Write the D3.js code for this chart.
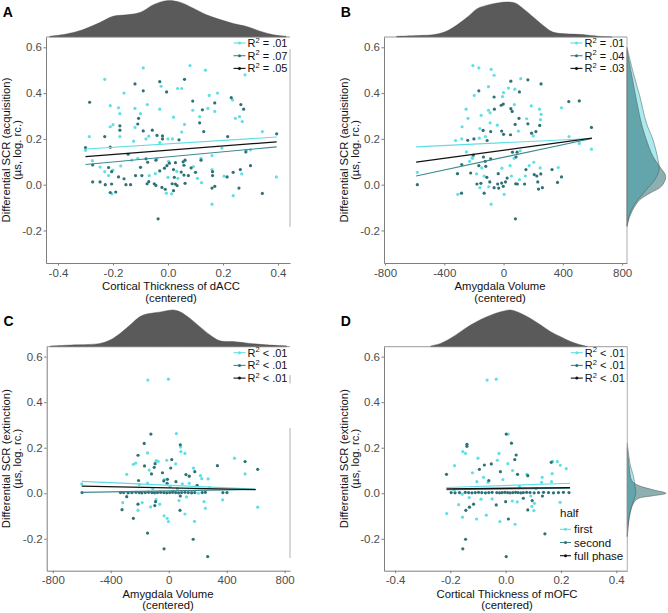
<!DOCTYPE html>
<html><head><meta charset="utf-8">
<script src="https://cdn.jsdelivr.net/npm/d3@7"></script>
<style>body{margin:0;background:#fff}svg{display:block;font-family:"Liberation Sans",Arial,sans-serif}</style>
</head><body><svg id="chart" width="668" height="613"></svg>
<script>
// ---------- DATA ----------
const seriesNames = ["first", "second", "full phase"];
const yTicks = [-0.2, 0.0, 0.2, 0.4, 0.6];
const thickTicks = [-0.4, -0.2, 0.0, 0.2, 0.4];
const volTicks = [-800, -400, 0, 400, 800];

// Panel A: cortical thickness dACC vs SCR acquisition
const aFirst = [[-0.09,0.51],[0.08,0.52],[0.136,0.50],[-0.23,0.46],[0.28,0.48],[-0.025,0.43],[0.035,0.42],[0.05,0.42],[-0.16,0.40],[0.15,0.39],[0.18,0.40],[0.235,0.37],[-0.21,0.345],[-0.18,0.336],[-0.075,0.35],[-0.03,0.33],[0.09,0.325],[0.145,0.333],[0.17,0.32],[-0.12,0.333],[-0.175,0.31],[-0.1,0.31],[0.02,0.295],[0.245,0.29],[0.26,0.297],[0.27,0.276],[0.115,0.297],[0.06,0.263],[-0.21,0.253],[-0.2,0.262],[-0.12,0.25],[-0.07,0.212],[-0.08,0.2],[-0.03,0.184],[0,0.2],[0.016,0.2],[0.05,0.23],[-0.286,0.21],[-0.175,0.21],[-0.125,0.19],[0.343,0.232],[0.394,0.034],[-0.30,0.15],[-0.275,0.105],[-0.247,0.077],[-0.23,0.057],[-0.204,-0.04],[-0.006,-0.037],[0.013,-0.04],[0.122,0.009],[0.16,-0.085],[0.237,-0.048],[0.268,0.047],[0.16,0.066],[0.12,0.115],[0.16,0.127],[0.196,0.16],[0.284,0.15],[0.3,0.152],[0.002,0.102],[-0.04,0.114],[-0.11,0.115],[-0.132,0.107],[-0.2,0.064],[-0.216,0.04],[-0.172,0.082],[-0.068,0.04],[-0.046,0.048],[0.032,0.058],[0.092,0.079],[0.107,0.028],[0,0.032],[0.036,0.028],[0.204,0.037]];
const aSecond = [[-0.12,0.44],[-0.03,0.45],[0.06,0.46],[-0.09,0.41],[-0.005,0.405],[-0.285,0.36],[0.09,0.365],[0.17,0.357],[0.23,0.38],[0.265,0.35],[0.275,0.33],[0.125,0.327],[-0.107,0.29],[-0.11,0.265],[0.115,0.27],[-0.175,0.257],[-0.175,0.238],[-0.09,0.235],[-0.057,0.238],[-0.04,0.215],[-0.02,0.213],[-0.02,0.2],[0.04,0.196],[0.13,0.232],[-0.23,0.21],[-0.21,0.164],[0.217,0.21],[0.395,0.222],[-0.30,0.162],[-0.274,0.086],[-0.216,0.075],[-0.205,0.057],[-0.274,0.012],[-0.247,0.012],[-0.228,0.0],[-0.205,0.003],[-0.21,-0.034],[-0.19,-0.032],[-0.18,0.034],[-0.16,0.026],[-0.153,0.0],[-0.136,0.0],[-0.118,0.04],[-0.095,0.04],[-0.076,0.004],[-0.07,0.013],[-0.05,0.004],[-0.044,-0.003],[-0.01,-0.02],[-0.022,-0.012],[0.015,0.004],[0.027,0.003],[0.033,-0.004],[0.02,-0.026],[0.062,0.006],[0.074,0.04],[0.16,-0.015],[0.17,-0.007],[0.258,-0.015],[0.343,-0.038],[-0.036,-0.149],[0.3,0.083],[0.263,0.066],[0.215,0.034],[0.237,0.054],[0.162,0.057],[0.162,0.04],[0.12,0.107],[0.283,0.143],[0.055,0.1],[0.062,0.107],[0.058,0.085],[0.084,0.073],[0.027,0.096],[-0.044,0.107],[-0.08,0.113],[-0.074,0.098],[-0.145,0.133],[-0.1,0.076],[-0.004,0.083],[0.005,0.094],[-0.013,0.072],[-0.03,0.06],[0.02,0.066],[0.048,0.055],[0.058,0.042],[0.1,0.054],[0.023,0.032]];
const aFitFirst = [[-0.30,0.156],[0.395,0.208]];
const aFitSecond = [[-0.30,0.088],[0.395,0.165]];
const aFitFull = [[-0.30,0.123],[0.395,0.187]];
const aR2 = ["= .01", "= .07", "= .05"];
const aTopX = [-0.43,-0.37,-0.31,-0.25,-0.2,-0.15,-0.1,-0.053,-0.005,0.043,0.09,0.14,0.19,0.238,0.286,0.335,0.383,0.43];
const aTopD = [0.02,0.08,0.20,0.39,0.57,0.61,0.68,0.89,1.0,0.96,0.80,0.61,0.48,0.37,0.29,0.16,0.06,0.02];

// Panel B: amygdala volume vs SCR acquisition
const bFirst = [[-207,0.52],[-167,0.51],[-84,0.504],[-64,0.478],[116,0.463],[76,0.417],[0,0.402],[33,0.422],[-102,0.428],[-198,0.39],[-7,0.385],[73,0.35],[-102,0.325],[-91,0.314],[-253,0.33],[-240,0.29],[-280,0.253],[-151,0.303],[-91,0.27],[-42,0.26],[-160,0.245],[100,0.234],[156,0.288],[187,0.344],[242,0.33],[253,0.307],[249,0.284],[200,0.213],[391,0.336],[442,0.21],[593,0.155],[511,0.18],[-324,0.193],[-282,0.2],[-164,0.203],[-122,0.21],[-582,0.054],[-309,-0.042],[-251,0.143],[-213,0.117],[-182,0.047],[-160,-0.013],[-147,0.073],[-131,0.038],[-100,-0.009],[-84,-0.085],[4,-0.042],[-11,0.072],[53,0.038],[44,0.083],[107,0.022],[71,0.115],[113,0.148],[147,0.038],[173,0.083],[204,0.098],[247,0.073],[369,0.075],[-209,0.115],[-229,0.102]];
const bSecond = [[49,0.452],[164,0.458],[253,0.44],[107,0.405],[-167,0.41],[-64,0.383],[-2,0.352],[-16,0.347],[49,0.332],[58,0.32],[-62,0.33],[-138,0.237],[-87,0.232],[-13,0.234],[0,0.22],[78,0.263],[104,0.29],[47,0.218],[164,0.266],[244,0.259],[218,0.232],[189,0.225],[440,0.363],[511,0.366],[593,0.25],[-242,0.194],[-200,0.2],[-111,0.193],[-582,0.0],[-311,0.048],[-284,-0.037],[-282,0.088],[-222,0.051],[-204,0.129],[-180,0.003],[-167,0.083],[-153,0.006],[-136,0.121],[-124,0.102],[-120,0.08],[-113,0.032],[-93,0.012],[-131,-0.037],[-87,0.113],[-64,-0.013],[-40,0.003],[-33,-0.015],[-13,0.007],[-2,-0.007],[13,0.012],[-36,0.048],[24,0.029],[82,0.004],[93,0.003],[80,-0.149],[84,0.121],[91,0.142],[60,0.142],[151,0.066],[142,0.003],[207,0.044],[224,0.038],[231,0.012],[251,0.047],[236,-0.019],[262,-0.013],[327,0.066],[364,0.01],[391,0.034]];
const bFitFirst = [[-590,0.165],[596,0.202]];
const bFitSecond = [[-590,0.038],[596,0.202]];
const bFitFull = [[-590,0.099],[596,0.203]];
const bR2 = ["= .01", "= .04", "= .03"];
const bTopX = [-722,-578,-467,-400,-333,-244,-178,-111,-44,22,78,133,200,267,333,422,533,644,733];
const bTopD = [0.02,0.04,0.07,0.14,0.29,0.57,0.81,0.91,0.97,1.0,0.97,0.81,0.57,0.33,0.14,0.09,0.07,0.02,0];
const bRightFirstY = [0.60,0.49,0.387,0.27,0.197,0.11,0.066,0.022,-0.022,-0.066,-0.095,-0.139,-0.18];
const bRightFirstD = [0,0.16,0.33,0.50,0.67,0.80,0.83,0.72,0.50,0.28,0.16,0.05,0];
const bRightSecondY = [0.59,0.49,0.373,0.27,0.197,0.124,0.08,0.036,-0.007,-0.037,-0.066,-0.095,-0.139,-0.183];
const bRightSecondD = [0,0.11,0.24,0.37,0.50,0.67,0.84,1.0,0.89,0.59,0.33,0.20,0.07,0];

// Panel C: amygdala volume vs SCR extinction
const cFirst = [[-144,0.497],[-2,0.501],[53,0.262],[82,0.203],[84,0.183],[112,0.175],[-146,0.177],[-87,0.143],[-73,0.14],[-14,0.145],[-244,0.127],[-228,0.132],[-135,0.102],[-290,0.083],[48,0.129],[171,0.11],[219,0.077],[228,0.064],[272,0.063],[454,0.154],[527,0.085],[614,-0.061],[-600,0.041],[-203,0.038],[-146,0.045],[94,0.041],[142,0.044],[281,0.025],[-317,-0.041],[-212,-0.075],[-183,-0.041],[-125,-0.06],[-87,-0.028],[-62,-0.048],[-32,-0.099],[-11,-0.11],[-2,-0.124],[112,-0.091],[71,-0.032],[178,-0.123],[244,-0.037],[253,-0.066],[372,-0.029],[205,0.0],[123,-0.016],[-270,0.003],[-60,0.005],[30,0.01],[160,0.006],[-110,0.02],[-30,0.06],[10,0.03],[60,0.02]];
const cSecond = [[-123,0.26],[-169,0.219],[80,0.213],[-212,0.167],[-94,0.13],[-100,0.114],[21,0.148],[-167,0.12],[-119,0.085],[-43,0.09],[14,0.111],[119,0.082],[142,0.075],[180,0.095],[336,0.121],[527,0.139],[614,0.105],[-598,0.003],[-208,0.056],[-34,0.054],[-9,0.061],[-11,0.044],[50,0.051],[196,0.035],[-290,-0.015],[-322,-0.072],[-212,-0.048],[-96,-0.054],[-91,-0.037],[78,-0.075],[80,-0.012],[-146,-0.175],[-32,-0.244],[169,-0.202],[269,-0.278],[-244,-0.11],[-333,0.003],[-311,0.003],[-281,0.002],[-253,0.003],[-226,0.004],[-203,0.003],[-185,0.002],[-162,0.003],[-139,0.004],[-116,0.003],[-98,0.002],[-78,0.003],[-55,0.004],[-34,0.003],[-14,0.002],[7,0.003],[27,0.004],[48,0.003],[68,0.002],[89,0.003],[112,0.004],[135,0.003],[158,0.002],[180,0.003],[231,0.003],[253,0.004],[374,0.003],[402,0.003]];
const cFitFirst = [[-600,0.052],[600,0.018]];
const cFitSecond = [[-600,0.004],[600,0.017]];
const cFitFull = [[-600,0.031],[600,0.016]];
const cR2 = ["< .01", "< .01", "< .01"];
const cTopX = [-819,-704,-635,-474,-405,-336,-267,-198,-152,-83,-14,32,78,147,216,285,354,446,561,677,815];
const cTopD = [0.02,0.04,0.05,0.09,0.18,0.36,0.59,0.82,0.89,0.93,0.98,1.0,0.95,0.77,0.54,0.32,0.16,0.14,0.09,0.05,0.02];

// Panel D: cortical thickness mOFC vs SCR extinction
const dFirst = [[-0.067,0.497],[-0.034,0.501],[0.009,0.26],[-0.155,0.183],[-0.145,0.175],[-0.185,0.121],[-0.1,0.154],[-0.024,0.175],[-0.03,0.145],[0.008,0.13],[0.025,0.1],[0.077,0.083],[0.132,0.07],[0.168,0.086],[0.17,0.14],[0.187,0.139],[0.198,0.123],[0.219,0.108],[-0.213,-0.089],[-0.156,-0.105],[-0.105,-0.113],[-0.07,-0.096],[-0.021,-0.124],[0.034,-0.136],[0.042,-0.038],[0.095,-0.058],[0.102,-0.076],[0.197,-0.04],[-0.104,0.051],[-0.064,0.048],[0.13,0.048],[0.166,0.051],[-0.186,0.015],[-0.157,-0.004],[-0.132,-0.019],[-0.089,-0.026],[-0.049,-0.025],[0.024,-0.034],[0.091,-0.012],[0.104,-0.044],[-0.12,0.09],[-0.08,0.07],[-0.01,0.06],[0.05,0.03],[0.11,0.02],[-0.17,-0.05]];
const dSecond = [[0.002,0.26],[0.021,0.22],[-0.14,0.215],[-0.14,0.206],[0.038,0.168],[0.033,0.148],[-0.214,0.083],[-0.052,0.129],[-0.077,0.124],[-0.095,0.105],[-0.019,0.095],[0.043,0.083],[0.08,0.077],[0.165,0.136],[-0.144,-0.075],[-0.131,-0.061],[0.01,-0.113],[-0.034,-0.051],[0.0,-0.037],[0.08,-0.073],[0.096,-0.032],[0.142,-0.178],[-0.145,-0.202],[-0.155,-0.244],[0.002,-0.278],[-0.061,0.056],[-0.116,-0.048],[0.064,-0.022],[0.133,-0.012],[-0.197,0.003],[-0.183,0.002],[-0.167,0.003],[-0.146,0.004],[-0.134,0.003],[-0.122,0.002],[-0.11,0.003],[-0.098,0.004],[-0.086,0.003],[-0.073,0.002],[-0.061,0.003],[-0.049,0.004],[-0.032,0.003],[-0.022,0.002],[-0.013,0.003],[-0.003,0.004],[0.007,0.003],[0.016,0.002],[0.026,0.003],[0.036,0.004],[0.045,0.003],[0.055,0.002],[0.064,0.003],[0.076,0.004],[0.088,0.003],[0.103,0.002],[0.119,0.003],[0.137,0.004],[0.155,0.003],[0.173,0.002],[0.191,0.003],[0.209,0.004],[0.229,0.003]];
const dFitFirst = [[-0.214,0.025],[0.233,0.044]];
const dFitSecond = [[-0.214,0.016],[0.233,0.022]];
const dFitFull = [[-0.214,0.019],[0.233,0.025]];
const dR2 = ["< .01", "< .01", "< .01"];
const dTopX = [-0.271,-0.235,-0.199,-0.163,-0.127,-0.09,-0.054,-0.018,0.018,0.054,0.09,0.127,0.163,0.199,0.235,0.271,0.295];
const dTopD = [0.02,0.09,0.23,0.41,0.59,0.74,0.86,0.95,1.0,0.91,0.77,0.59,0.41,0.27,0.14,0.05,0.01];
const dRightFirstY = [0.219,0.13,0.073,0.029,0,-0.029,-0.059,-0.117,-0.19];
const dRightFirstD = [0,0.07,0.16,0.20,0.22,0.17,0.11,0.04,0];
const dRightSecondY = [0.2,0.117,0.058,0.038,0.015,0.0,-0.012,-0.023,-0.044,-0.088,-0.146,-0.19];
const dRightSecondD = [0,0.05,0.11,0.24,0.67,1.0,0.63,0.28,0.16,0.07,0.02,0];

// ---------- STYLE ----------
const pointCol = {first: "#5ee0e7", second: "#2e7276"};
const lineCol = {first: "#5fdde4", second: "#3c8a8e", full: "#111111"};
const fillCol = {first: "rgba(88,214,224,0.5)", second: "rgba(28,96,102,0.5)"};
const axisCol = "#7f7f7f", tickTextCol = "#4d4d4d";

const zip = (a, b) => a.map((v, i) => [v, b[i]]);
const f1 = d => d.toFixed(1);

const panels = [
  {letter:"A", left:46, right:290, top:37, bottom:263, xDom:[-0.4436,0.4436], yDom:[-0.342,0.645], xTicks:thickTicks, xFmt:f1,
   first:aFirst, second:aSecond, fits:[aFitFirst,aFitSecond,aFitFull], r2:aR2, topDens:zip(aTopX,aTopD), topH:36.3,
   xTitle:["Cortical Thickness of dACC","(centered)"], xTitleX:171, yTitle:["Differential SCR (acquisition)","(µs, log. rc.)"],
   rightSpans:[[0.592,-0.184]]},
  {letter:"B", left:384, right:627, top:37, bottom:263, xDom:[-807,833], yDom:[-0.342,0.645], xTicks:volTicks, xFmt:String,
   first:bFirst, second:bSecond, fits:[bFitFirst,bFitSecond,bFitFull], r2:bR2, topDens:zip(bTopX,bTopD), topH:35,
   rightFirst:zip(bRightFirstY,bRightFirstD), rightSecond:zip(bRightSecondY,bRightSecondD),
   xTitle:["Amygdala Volume","(centered)"], xTitleX:500, yTitle:["Differential SCR (acquisition)","(µs, log. rc.)"],
   rightSpans:[[0.645,-0.342]]},
  {letter:"C", left:46.7, right:290, top:346.7, bottom:570.7, xDom:[-842,837], yDom:[-0.340,0.6435], xTicks:volTicks, xFmt:String,
   first:cFirst, second:cSecond, fits:[cFitFirst,cFitSecond,cFitFull], r2:cR2, topDens:zip(cTopX,cTopD), topH:36.7,
   xTitle:["Amygdala Volume","(centered)"], xTitleX:168, yTitle:["Differential SCR (extinction)","(µs, log. rc.)"],
   rightSpans:[[0.519,0.482],[0.286,-0.284]]},
  {letter:"D", left:384, right:627.3, top:346.7, bottom:570.7, xDom:[-0.44,0.44], yDom:[-0.340,0.6435], xTicks:thickTicks, xFmt:f1,
   first:dFirst, second:dSecond, fits:[dFitFirst,dFitSecond,dFitFull], r2:dR2, topDens:zip(dTopX,dTopD), topH:36.7,
   rightFirst:zip(dRightFirstY,dRightFirstD), rightSecond:zip(dRightSecondY,dRightSecondD),
   xTitle:["Cortical Thickness of mOFC","(centered)"], xTitleX:507, yTitle:["Differential SCR (extinction)","(µs, log. rc.)"],
   rightSpans:[[0.6435,-0.340]], halfLegend:true}
];

const svg = d3.select("#chart");

panels.forEach(p => {
  const g = svg.append("g");
  const xs = d3.scaleLinear().domain(p.xDom).range([p.left, p.right]);
  const ys = d3.scaleLinear().domain(p.yDom).range([p.bottom, p.top]);
  const th = d3.scaleLinear().domain([0, 1]).range([0, p.topH]);

  // top marginal density
  g.append("path").datum(p.topDens)
    .attr("d", d3.area().curve(d3.curveCatmullRom).x(d => xs(d[0])).y0(p.top).y1(d => p.top - th(d[1])))
    .attr("fill", "#5a5a5a").attr("stroke", "#4a4a4a").attr("stroke-width", 0.4);

  // right marginal densities
  if (p.rightFirst) {
    const rw = d3.scaleLinear().domain([0, 1]).range([0, 38.7]);
    const ar = d3.area().curve(d3.curveCatmullRom).y(d => ys(d[0])).x0(p.right).x1(d => p.right + rw(d[1]));
    g.append("path").datum(p.rightFirst).attr("d", ar).attr("fill", fillCol.first).attr("stroke", "#555").attr("stroke-width", 0.5);
    g.append("path").datum(p.rightSecond).attr("d", ar).attr("fill", fillCol.second).attr("stroke", "#555").attr("stroke-width", 0.5);
  }

  // frame: top and right lines
  g.append("line").attr("x1", p.left).attr("x2", p.right).attr("y1", p.top).attr("y2", p.top)
    .attr("stroke", axisCol).attr("stroke-width", 0.8);
  p.rightSpans.forEach(s => {
    g.append("line").attr("x1", p.right).attr("x2", p.right).attr("y1", ys(s[0])).attr("y2", ys(s[1]))
      .attr("stroke", "#9a9a9a").attr("stroke-width", 0.8);
  });

  // axes
  const xa = g.append("g").attr("transform", `translate(0,${p.bottom})`)
    .call(d3.axisBottom(xs).tickValues(p.xTicks).tickFormat(p.xFmt).tickSize(2.5).tickSizeOuter(0).tickPadding(3));
  const ya = g.append("g").attr("transform", `translate(${p.left},0)`)
    .call(d3.axisLeft(ys).tickValues(yTicks).tickFormat(f1).tickSize(2.5).tickSizeOuter(0).tickPadding(1.5));
  [xa, ya].forEach(a => {
    a.select(".domain").attr("stroke", axisCol).attr("stroke-width", 1);
    a.selectAll(".tick line").attr("stroke", axisCol);
    a.selectAll(".tick text").attr("fill", tickTextCol).attr("font-size", 11.5)
      .attr("font-family", '"Liberation Sans",Arial,sans-serif');
  });

  // points
  [["first", p.first], ["second", p.second]].forEach(([k, arr]) => {
    g.append("g").selectAll("circle").data(arr).join("circle")
      .attr("cx", d => xs(d[0])).attr("cy", d => ys(d[1])).attr("r", 1.6)
      .attr("fill", pointCol[k]);
  });

  // regression lines
  const ln = d3.line().x(d => xs(d[0])).y(d => ys(d[1]));
  const keys = ["first", "second", "full"];
  p.fits.forEach((f, i) => {
    g.append("path").datum(f).attr("d", ln).attr("fill", "none")
      .attr("stroke", lineCol[keys[i]]).attr("stroke-width", i === 2 ? 1.3 : 1.1);
  });

  // R2 legend
  p.r2.forEach((lab, i) => {
    const cy = p.top + 6 + i * 12.7;
    const kx = p.right - 56.5;
    g.append("line").attr("x1", kx).attr("x2", kx + 12).attr("y1", cy).attr("y2", cy)
      .attr("stroke", lineCol[keys[i]]).attr("stroke-width", 1.1);
    g.append("circle").attr("cx", kx + 6).attr("cy", cy).attr("r", 1.5).attr("fill", i === 2 ? "#111" : pointCol[keys[i]]);
    const t = g.append("text").attr("x", p.right - 42.5).attr("y", cy + 4).attr("font-size", 11).attr("fill", "#111");
    t.append("tspan").text("R");
    t.append("tspan").attr("font-size", 7.5).attr("dy", -4.5).text("2");
    t.append("tspan").attr("dy", 4.5).text(" " + lab);
  });

  // half legend
  if (p.halfLegend) {
    g.append("text").attr("x", 560).attr("y", p.bottom - 53.5).attr("font-size", 11.5).attr("fill", "#111").text("half");
    seriesNames.forEach((s, i) => {
      const cy = p.bottom - 41.4 + i * 13.2;
      g.append("line").attr("x1", 560).attr("x2", 571).attr("y1", cy).attr("y2", cy)
        .attr("stroke", lineCol[keys[i]]).attr("stroke-width", 1.1);
      g.append("circle").attr("cx", 565.5).attr("cy", cy).attr("r", 1.5).attr("fill", i === 2 ? "#111" : pointCol[keys[i]]);
      g.append("text").attr("x", 574).attr("y", cy + 4).attr("font-size", 11.5).attr("fill", "#111").text(s);
    });
  }

  // axis titles
  p.xTitle.forEach((t, i) => {
    g.append("text").attr("x", p.xTitleX).attr("y", p.bottom + 27 + i * 11.6)
      .attr("text-anchor", "middle").attr("font-size", 11.3).attr("fill", "#111").text(t);
  });
  const yc = (p.top + p.bottom) / 2;
  p.yTitle.forEach((t, i) => {
    const x = p.left - 36.3 + i * 11;
    g.append("text").attr("transform", `translate(${x},${yc}) rotate(-90)`)
      .attr("text-anchor", "middle").attr("font-size", 11.3).attr("fill", "#111").text(t);
  });

  // panel letter
  g.append("text").attr("x", p.left - 43.3).attr("y", p.top - 20.3)
    .attr("font-size", 14).attr("font-weight", "bold").attr("fill", "#000").text(p.letter);
});
</script>
</body></html>
